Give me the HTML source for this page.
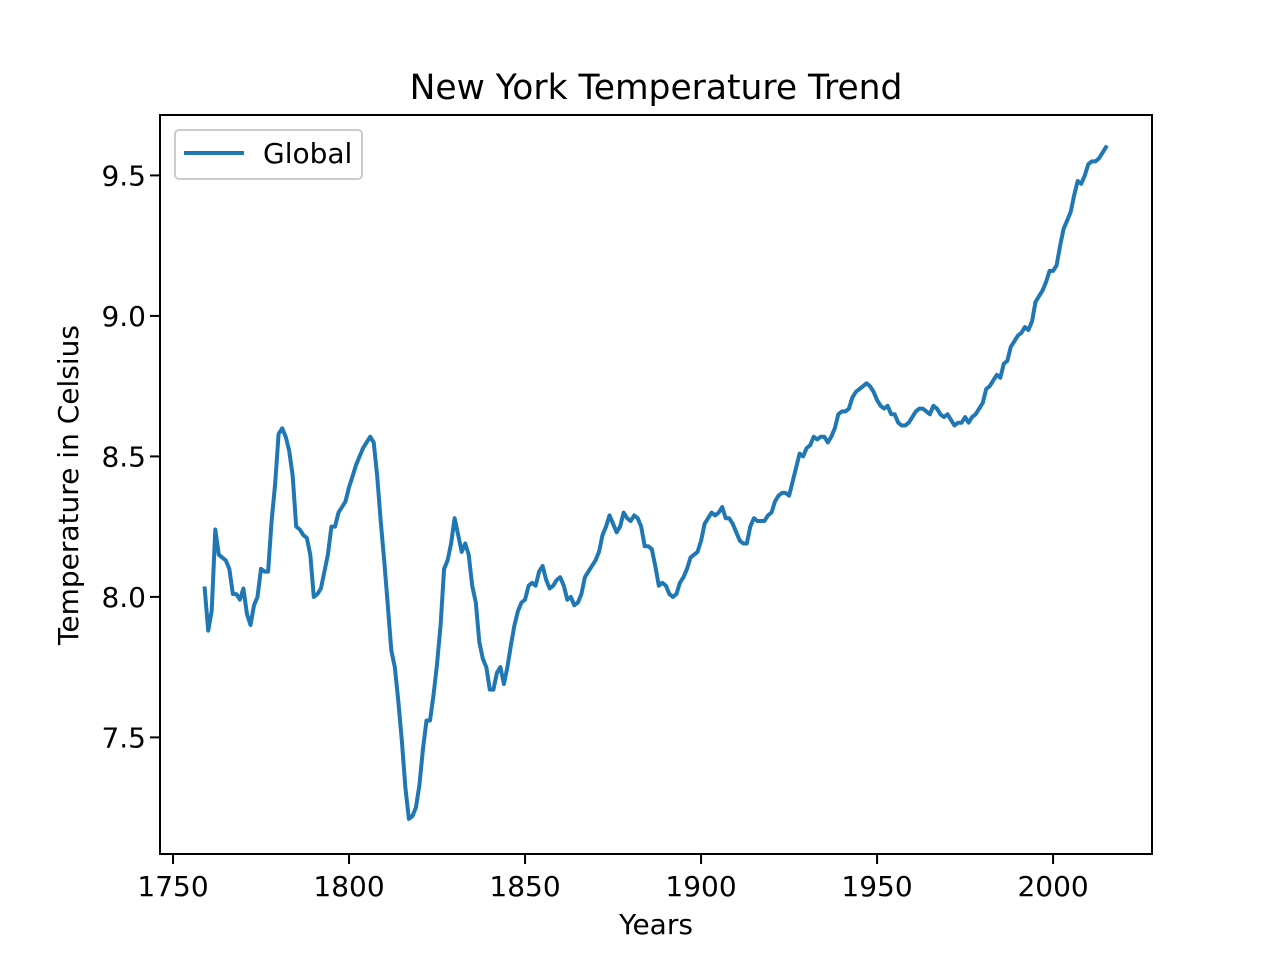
<!DOCTYPE html>
<html><head><meta charset="utf-8"><style>
body{margin:0;background:#fff}
svg{display:block;font-family:"DejaVu Sans","Liberation Sans",sans-serif}
</style></head><body>
<svg id="chart" width="1280" height="960" viewBox="0 0 1280 960">
<rect x="0" y="0" width="1280" height="960" fill="#fff"/>
<text x="656" y="99" font-size="34.5" text-anchor="middle">New York Temperature Trend</text>
<g id="xticks"></g>
<g id="yticks"></g>
<path id="line" fill="none" stroke="#1f77b4" stroke-width="4" stroke-linejoin="round" stroke-linecap="square"/>
<rect x="160" y="115" width="992" height="739" fill="none" stroke="#000" stroke-width="2"/>
<text x="656" y="934" font-size="28" text-anchor="middle">Years</text>
<text transform="translate(78,485) rotate(-90)" font-size="28" text-anchor="middle">Temperature in Celsius</text>
<g>
<rect x="175" y="130" width="187" height="49" rx="4" fill="#fff" stroke="#ccc" stroke-width="2"/>
<line x1="184" y1="153" x2="244" y2="153" stroke="#1f77b4" stroke-width="4"/>
<text x="263" y="163" font-size="28">Global</text>
</g>
</svg>
<script>
const startYear = 1759;
const temps = [8.03,7.88,7.95,8.24,8.15,8.14,8.13,8.10,8.01,8.01,7.99,8.03,7.94,7.90,7.97,8.00,8.10,8.09,8.09,8.27,8.40,8.58,8.60,8.57,8.52,8.43,8.25,8.24,8.22,8.21,8.15,8.00,8.01,8.03,8.09,8.15,8.25,8.25,8.30,8.32,8.34,8.39,8.43,8.47,8.50,8.53,8.55,8.57,8.55,8.43,8.27,8.13,7.97,7.81,7.75,7.63,7.49,7.32,7.21,7.22,7.25,7.33,7.46,7.56,7.56,7.65,7.76,7.90,8.10,8.13,8.19,8.28,8.22,8.16,8.19,8.15,8.04,7.98,7.84,7.78,7.75,7.67,7.67,7.73,7.75,7.69,7.75,7.83,7.90,7.95,7.98,7.99,8.04,8.05,8.04,8.09,8.11,8.06,8.03,8.04,8.06,8.07,8.04,7.99,8.00,7.97,7.98,8.01,8.07,8.09,8.11,8.13,8.16,8.22,8.25,8.29,8.26,8.23,8.25,8.30,8.28,8.27,8.29,8.28,8.25,8.18,8.18,8.17,8.11,8.04,8.05,8.04,8.01,8.00,8.01,8.05,8.07,8.10,8.14,8.15,8.16,8.20,8.26,8.28,8.30,8.29,8.30,8.32,8.28,8.28,8.26,8.23,8.20,8.19,8.19,8.25,8.28,8.27,8.27,8.27,8.29,8.30,8.34,8.36,8.37,8.37,8.36,8.41,8.46,8.51,8.50,8.53,8.54,8.57,8.56,8.57,8.57,8.55,8.57,8.60,8.65,8.66,8.66,8.67,8.71,8.73,8.74,8.75,8.76,8.75,8.73,8.70,8.68,8.67,8.68,8.65,8.65,8.62,8.61,8.61,8.62,8.64,8.66,8.67,8.67,8.66,8.65,8.68,8.67,8.65,8.64,8.65,8.63,8.61,8.62,8.62,8.64,8.62,8.64,8.65,8.67,8.69,8.74,8.75,8.77,8.79,8.78,8.83,8.84,8.89,8.91,8.93,8.94,8.96,8.95,8.98,9.05,9.07,9.09,9.12,9.16,9.16,9.18,9.25,9.31,9.34,9.37,9.43,9.48,9.47,9.50,9.54,9.55,9.55,9.56,9.58,9.60];
const xTickLabels = [1750,1800,1850,1900,1950,2000];
const yTickLabels = [7.5,8.0,8.5,9.0,9.5];

const X0=160,X1=1152,Y0=115,Y1=854;
const xMin=1746.3,xMax=2028.1,yMin=7.085,yMax=9.715;
function xs(v){return X0+(v-xMin)/(xMax-xMin)*(X1-X0);}
function ys(v){return Y1-(v-yMin)/(yMax-yMin)*(Y1-Y0);}
const NS="http://www.w3.org/2000/svg";
let d="";
temps.forEach((t,i)=>{d+=(i?"L":"M")+xs(startYear+i).toFixed(1)+","+ys(t).toFixed(1);});
document.getElementById('line').setAttribute('d',d);
const gx=document.getElementById('xticks');
xTickLabels.forEach(v=>{
  const x=xs(v);
  const l=document.createElementNS(NS,'line');
  
  
  l.setAttribute('x1',x);l.setAttribute('x2',x);l.setAttribute('y1',Y1);l.setAttribute('y2',Y1+10);l.setAttribute('stroke','#000');l.setAttribute('stroke-width','2');
  gx.appendChild(l);
  const t=document.createElementNS(NS,'text');
  
  
  t.setAttribute('x',x);t.setAttribute('y',Y1+42);t.setAttribute('font-size','28');t.setAttribute('text-anchor','middle');
  t.textContent=v;gx.appendChild(t);
});
const gy=document.getElementById('yticks');
yTickLabels.forEach(v=>{
  const y=ys(v);
  const l=document.createElementNS(NS,'line');
  
  
  l.setAttribute('x1',X0-10);l.setAttribute('x2',X0);l.setAttribute('y1',y);l.setAttribute('y2',y);l.setAttribute('stroke','#000');l.setAttribute('stroke-width','2');
  gy.appendChild(l);
  const t=document.createElementNS(NS,'text');
  
  
  t.setAttribute('x',X0-14);t.setAttribute('y',y+10);t.setAttribute('font-size','28');t.setAttribute('text-anchor','end');
  t.textContent=v.toFixed(1);gy.appendChild(t);
});
</script>
</body></html>
